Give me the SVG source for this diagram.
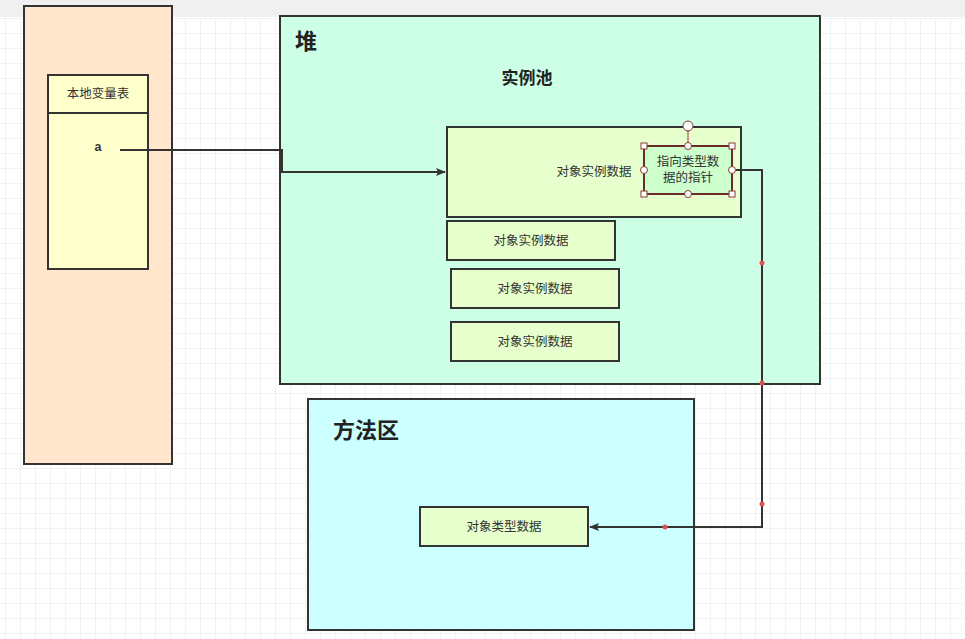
<svg xmlns="http://www.w3.org/2000/svg" width="965" height="639" viewBox="0 0 965 639">
<defs>
<pattern id="g" width="15" height="15" patternUnits="userSpaceOnUse" x="5" y="3"><path d="M0 0H15M0 0V15" fill="none" stroke="#e6e6e6" stroke-width="1"/></pattern>
<marker id="ar" markerWidth="10" markerHeight="8" refX="9" refY="4" orient="auto" markerUnits="userSpaceOnUse"><path d="M0 0L10 4L0 8L2 4Z" fill="#333"/></marker>
<style>
.b{stroke:#333;stroke-width:2}
.t{font-family:"Liberation Sans","Noto Sans CJK SC",sans-serif;font-size:12.5px;fill:#333;text-anchor:middle}
.h{font-family:"Liberation Sans","Noto Sans CJK SC",sans-serif;font-size:22px;font-weight:bold;fill:#222}
.c{fill:#fff;stroke:#8b3a3a;stroke-width:1}
</style>
</defs>
<rect width="965" height="639" fill="#fff"/>
<rect y="18" width="965" height="621" fill="url(#g)"/>
<rect width="965" height="17" fill="#f0f0f0"/>
<g id="stack"><rect x="24" y="6" width="148" height="458" fill="#ffe6cc" class="b"/></g>
<g id="localvars"><rect x="48" y="75" width="100" height="194" fill="#ffffcc" class="b"/><line x1="48" y1="113" x2="148" y2="113" class="b"/>
<text x="98" y="98" class="t">本地变量表</text><text x="98" y="151" class="t" style="font-weight:bold">a</text></g>
<g id="heap"><rect x="280" y="16" width="540" height="368" fill="#ccffe6" class="b"/><text x="295" y="49" class="h">堆</text><text x="527" y="84" class="h" style="font-size:17px;text-anchor:middle">实例池</text></g>
<g id="obj1"><rect x="447" y="127" width="294" height="90" fill="#e6ffcc" class="b"/><text x="594" y="176" class="t">对象实例数据</text></g>
<g id="ptr"><rect x="644" y="146" width="88" height="48" fill="#ccffcc" stroke="#6b2b2b" stroke-width="2"/>
<text x="688" y="166" class="t">指向类型数</text><text x="688" y="182" class="t">据的指针</text>
<line x1="688" y1="126" x2="688" y2="146" stroke="#8b3a3a"/>
<circle cx="688" cy="126" r="5" class="c"/><circle cx="688" cy="146" r="3.5" class="c"/><circle cx="688" cy="194" r="3.5" class="c"/><circle cx="644" cy="170" r="3.5" class="c"/><circle cx="732" cy="170" r="3.5" class="c"/>
<rect x="641" y="143" width="6" height="6" class="c"/><rect x="729" y="143" width="6" height="6" class="c"/><rect x="641" y="191" width="6" height="6" class="c"/><rect x="729" y="191" width="6" height="6" class="c"/></g>
<g id="obj2"><rect x="447" y="221" width="168" height="39" fill="#e6ffcc" class="b"/><text x="531" y="245" class="t">对象实例数据</text></g>
<g id="obj3"><rect x="451" y="269" width="168" height="39" fill="#e6ffcc" class="b"/><text x="535" y="293" class="t">对象实例数据</text></g>
<g id="obj4"><rect x="451" y="322" width="168" height="39" fill="#e6ffcc" class="b"/><text x="535" y="346" class="t">对象实例数据</text></g>
<g id="method"><rect x="308" y="399" width="386" height="231" fill="#ccffff" class="b"/><text x="333" y="438" class="h">方法区</text></g>
<g id="type"><rect x="420" y="507" width="168" height="39" fill="#e6ffcc" class="b"/><text x="504" y="531" class="t">对象类型数据</text></g>
<g id="connectors" fill="none" stroke="#333" stroke-width="2">
<path d="M120 150H282V172H445" marker-end="url(#ar)"/>
<path d="M736 170H762V527H590" marker-end="url(#ar)"/>
<g fill="#e05050" stroke="none"><circle cx="762" cy="263" r="2.5"/><circle cx="762" cy="383" r="2.5"/><circle cx="762" cy="504" r="2.5"/><circle cx="665" cy="527" r="2.5"/></g>
</g>
</svg>
